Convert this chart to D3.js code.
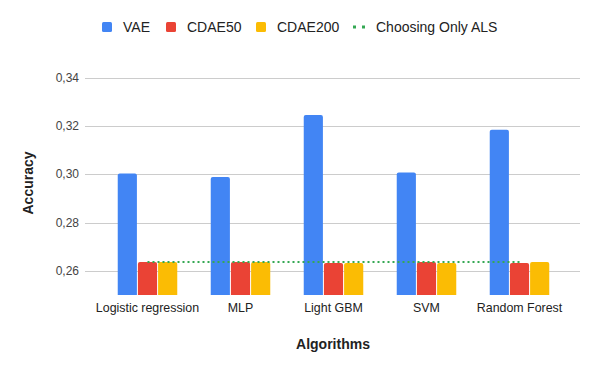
<!DOCTYPE html>
<html><head><meta charset="utf-8">
<script src="https://cdn.jsdelivr.net/npm/d3@7"></script>
<style>body{margin:0;background:#fff}svg{font-family:"Liberation Sans",Arial,sans-serif}</style>
</head><body>
<svg id="c" width="600" height="371"></svg>
<script>
const categories = ["Logistic regression","MLP","Light GBM","SVM","Random Forest"];
const seriesNames = ["VAE","CDAE50","CDAE200"];
const vae = [0.3004,0.2989,0.3247,0.3008,0.3185];
const cdae50 = [0.2637,0.2637,0.2633,0.2637,0.2633];
const cdae200 = [0.2637,0.2637,0.2633,0.2633,0.2637];
const alsOnly = [0.2637,0.2637,0.2637,0.2637,0.2637];
const yTicks = [0.26,0.28,0.30,0.32,0.34];
const colors = ["#4285F4","#EA4335","#FBBC04"];
const lineColor = "#34A853";
const series = [vae,cdae50,cdae200];

const svg = d3.select("#c");
const y = d3.scaleLinear().domain([0.25,0.34]).range([295,78]);
const x = d3.scaleBand().domain(categories).range([101,566]).paddingInner(0.36).paddingOuter(0.18);
const x1 = d3.scaleBand().domain(seriesNames).range([0,x.bandwidth()]).paddingInner(0.05);

// gridlines
svg.append("g").selectAll("line").data(yTicks).join("line")
  .attr("x1",85).attr("x2",580).attr("y1",d=>Math.round(y(d))+0.5).attr("y2",d=>Math.round(y(d))+0.5)
  .attr("stroke","#cccccc").attr("stroke-width",1);
// y tick labels
svg.append("g").selectAll("text").data(yTicks).join("text")
  .attr("x",79).attr("y",d=>y(d)+4).attr("text-anchor","end")
  .attr("font-size",12).attr("fill","#444")
  .text(d=>d3.format(".2f")(d).replace(".",","));

// bars
const g = svg.append("g");
categories.forEach((c,i)=>{
  series.forEach((s,j)=>{
    const x0 = x(c)+x1(seriesNames[j]);
    const w = x1.bandwidth();
    const top = y(s[i]), bot = y(0.25);
    const r = 2;
    g.append("path")
      .attr("d",`M${x0},${bot}V${top+r}Q${x0},${top} ${x0+r},${top}H${x0+w-r}Q${x0+w},${top} ${x0+w},${top+r}V${bot}Z`)
      .attr("fill",colors[j]);
  });
});

// dotted line
const line = d3.line().x((d,i)=>x(categories[i])+x.bandwidth()/2).y(d=>y(d));
svg.append("path").datum(alsOnly).attr("d",line).attr("fill","none")
  .attr("stroke",lineColor).attr("stroke-width",2).attr("stroke-dasharray","2,3");

// x labels
svg.append("g").selectAll("text").data(categories).join("text")
  .attr("x",d=>x(d)+x.bandwidth()/2).attr("y",312).attr("text-anchor","middle")
  .attr("font-size",12.4).attr("fill","#222").text(d=>d);

// axis titles
svg.append("text").attr("x",333).attr("y",349).attr("text-anchor","middle")
  .attr("font-size",14).attr("font-weight","bold").attr("fill","#222").text("Algorithms");
svg.append("text").attr("transform","translate(33,183) rotate(-90)").attr("text-anchor","middle")
  .attr("font-size",14).attr("font-weight","bold").attr("fill","#222").text("Accuracy");

// legend
const leg = svg.append("g");
const legItems = [
  {name:"VAE",x:102,type:"rect",color:colors[0]},
  {name:"CDAE50",x:166,type:"rect",color:colors[1]},
  {name:"CDAE200",x:256,type:"rect",color:colors[2]},
  {name:"Choosing Only ALS",x:353,type:"line",color:lineColor}
];
legItems.forEach(it=>{
  if(it.type==="rect"){
    leg.append("rect").attr("x",it.x).attr("y",22).attr("width",10).attr("height",10).attr("rx",1.5).attr("fill",it.color);
    leg.append("text").attr("x",it.x+21).attr("y",32).attr("font-size",14).attr("fill","#222").text(it.name);
  } else {
    leg.append("line").attr("x1",it.x).attr("x2",it.x+13).attr("y1",27).attr("y2",27)
      .attr("stroke",it.color).attr("stroke-width",3).attr("stroke-dasharray","3,6");
    leg.append("text").attr("x",it.x+23).attr("y",32).attr("font-size",14).attr("fill","#222").text(it.name);
  }
});
</script>
</body></html>
